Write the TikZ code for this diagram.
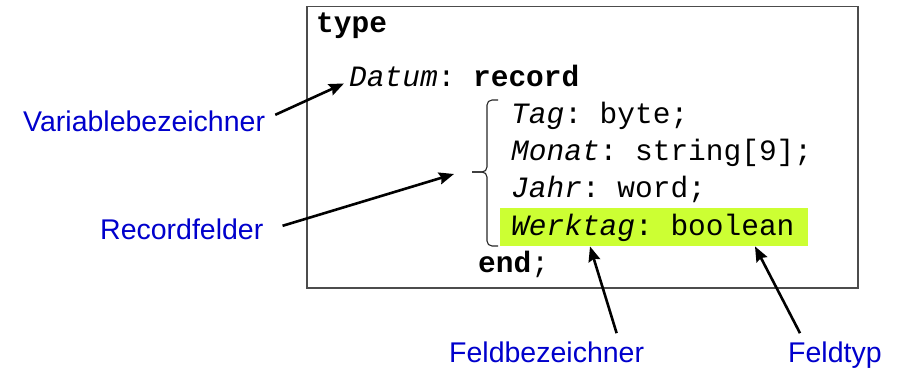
\documentclass[tikz,border=0pt]{standalone}
\usepackage{fontspec}
\setsansfont{Liberation Sans}
\setmonofont{Liberation Mono}
\usetikzlibrary{positioning, arrows.meta}
\definecolor{hinweisblau}{RGB}{0,0,204}
\definecolor{markiert}{RGB}{204,255,51}
\tikzset{
x=1pt, y=-1pt, % pixel-like units, y grows downwards
>={Stealth[length=15pt, width=12pt, inset=2pt]}, % solid arrow heads
code/.style={font=\fontsize{29.5}{37}\selectfont\ttfamily, inner sep=0pt, anchor=base west}, % pascal source lines
hinweis/.style={font=\fontsize{28.5}{34}\selectfont\sffamily, text=hinweisblau, inner sep=0pt, anchor=base west}, % blue annotations
pfeil/.style={->, line width=2.6pt}, % annotation arrows
klammerlinie/.style={line width=1.1pt, black!85, rounded corners=5pt}, % the brace round the fields
}

\begin{document}
\begin{tikzpicture}
                \useasboundingbox (0,0) rectangle (897,369);
                \node[draw=black!70, line width=1.5pt, minimum width=551pt, minimum height=281pt, inner sep=0pt, anchor=north west] (kasten) at (306,6) {};
                \node[fill=markiert, minimum width=308pt, minimum height=38pt, inner sep=0pt, anchor=north west] (mark) at (500,208) {};

                \node[code] (type) at (316,33) {\bfseries type};
                \node[code] (datum) at (349,87) {{\itshape Datum}: \textbf{record}};
                \node[code] (tag) at (511,123) {{\itshape Tag}: byte;};
                \node[code] (monat) at (511,160) {{\itshape Monat}: string[9];};
                \node[code] (jahr) at (511,197) {{\itshape Jahr}: word;};
                \node[code] (werktag) at (511,235) {{\itshape Werktag}: boolean};
                \node[code] (ende) at (478,272) {\textbf{end};};

                % brace drawn as two bent halves meeting at the tip
                \coordinate (klammer) at (472,172);
                \draw[klammerlinie] (498,100) -- (487,100) -- (487,172) -- (klammer);
                \draw[klammerlinie] (klammer) -- (487,172) -- (487,246) -- (498,246);

                \node[hinweis] (varbez) at (23,131) {Variablebezeichner};
                \node[hinweis] (recfeld) at (100,239) {Recordfelder};
                \node[hinweis] (feldbez) at (449,362) {Feldbezeichner};
                \node[hinweis] (feldtyp) at (788,362) {Feldtyp};

                \draw[pfeil] ([xshift=10pt, yshift=6pt]varbez.east) -- ([xshift=-5pt, yshift=-7pt]datum.west);
                \draw[pfeil] ([xshift=19pt, yshift=3pt]recfeld.east) -- ([xshift=-18pt, yshift=-2pt]klammer);
                \draw[pfeil] ([xshift=70pt, yshift=8pt]feldbez.north) -- ([xshift=90pt]mark.south west);
                \draw[pfeil] ([xshift=12pt, yshift=8pt]feldtyp.north west) -- ([xshift=255pt]mark.south west);
                \end{tikzpicture}
\end{document}
